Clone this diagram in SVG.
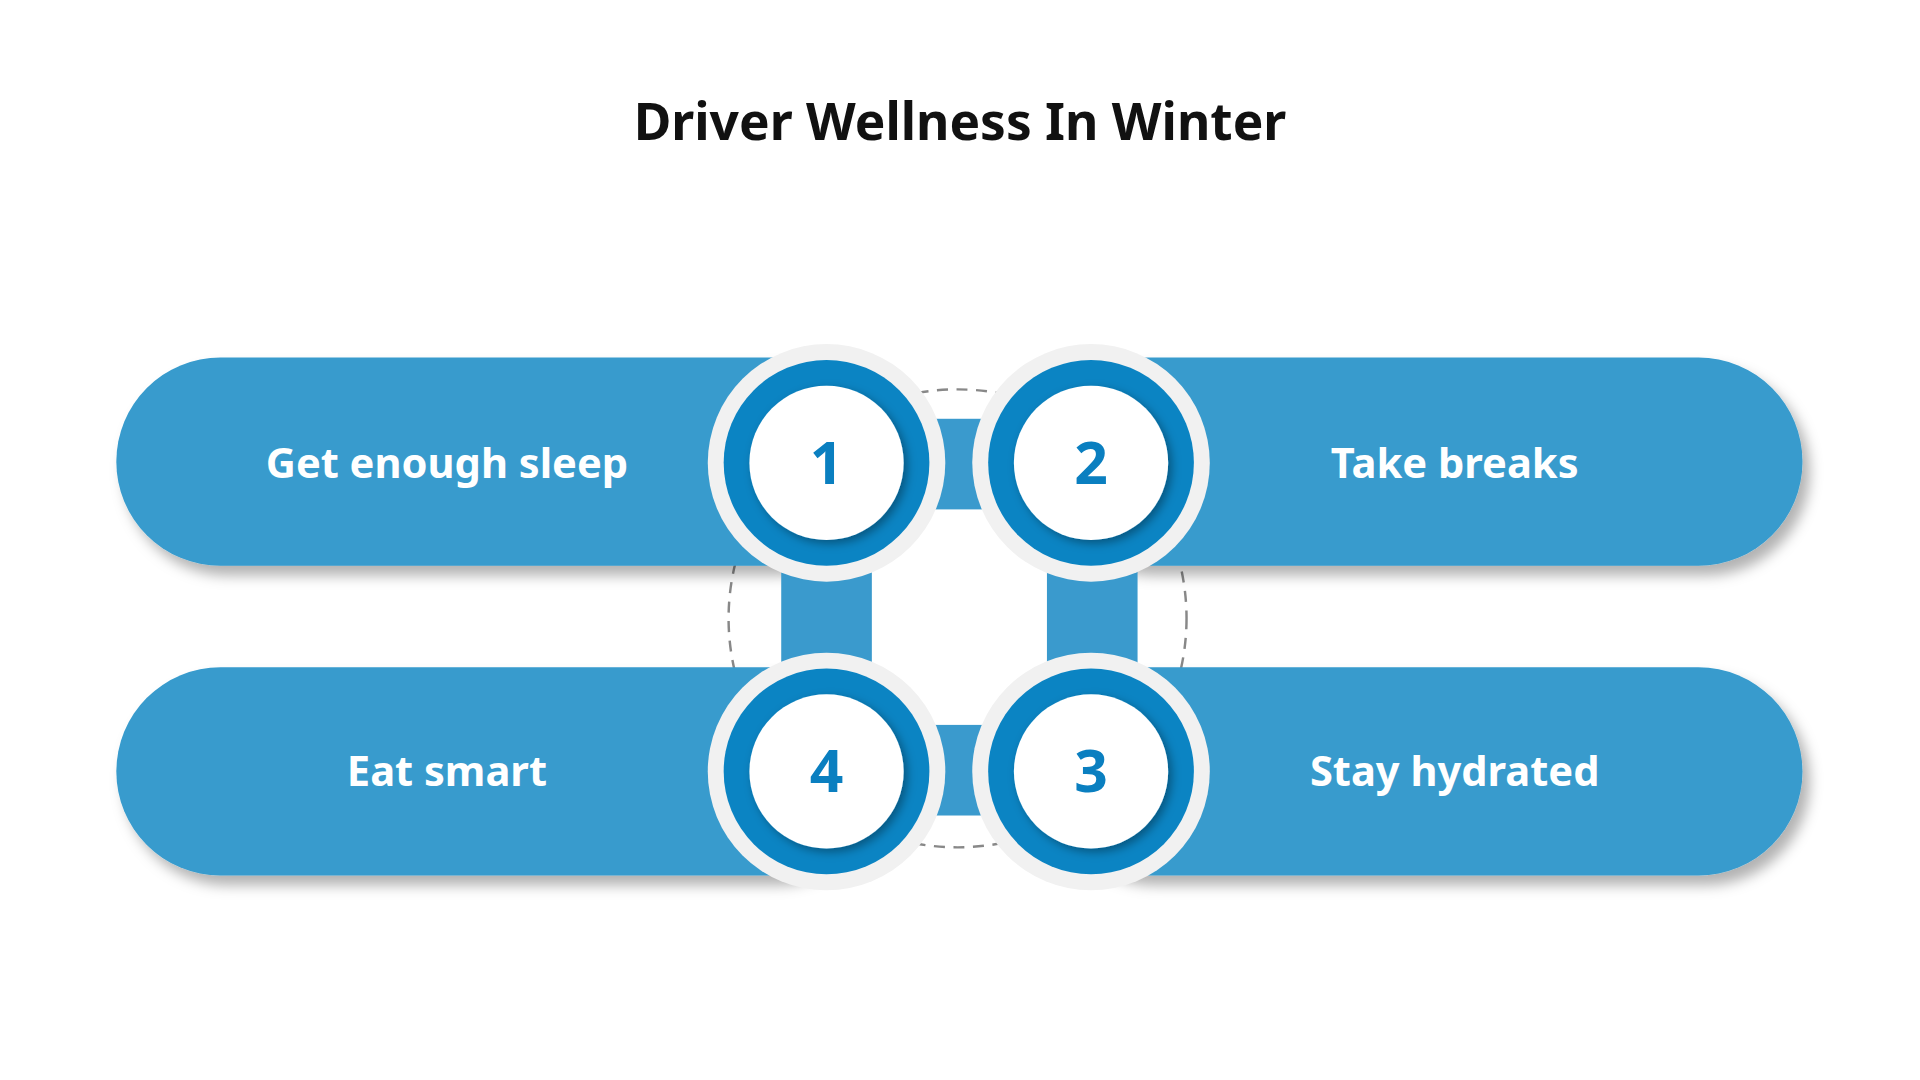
<svg xmlns="http://www.w3.org/2000/svg" width="1920" height="1080" viewBox="0 0 1920 1080">
<defs>
<style>
.pill{fill:#379bcd;filter:url(#sh)}
.bar{fill:#2f95ca;opacity:0.95}
.ring{fill:#f1f1f1}
.blue{fill:#0b84c3}
.inner{fill:#fff;filter:url(#ish)}
.num{font-family:"Noto Sans",sans-serif;font-weight:700;font-size:48px;fill:#0a7fc0;text-anchor:middle}
.lbl{font-family:"Noto Sans",sans-serif;font-weight:700;font-size:34px;fill:#fff;text-anchor:middle}
</style>
<filter id="sh" x="-10%" y="-20%" width="130%" height="150%"><feDropShadow dx="6" dy="8" stdDeviation="5" flood-color="#000" flood-opacity="0.3"/></filter>
<filter id="ish" x="-30%" y="-30%" width="160%" height="160%"><feDropShadow dx="3" dy="3" stdDeviation="4" flood-color="#000" flood-opacity="0.35"/></filter>
</defs>
<rect width="1920" height="1080" fill="#fff"/>
<g transform="scale(1.2245)">
<text x="784" y="114" font-family="Noto Sans,sans-serif" font-weight="700" font-size="42" text-anchor="middle" fill="#111">Driver Wellness In Winter</text>
<circle cx="782" cy="505" r="187" fill="none" stroke="#888" stroke-width="2" stroke-dasharray="9 7"/>
<g id="p1"><rect class="pill" x="95" y="292" width="620" height="170" rx="85"/><text class="lbl" x="365" y="390">Get enough sleep</text></g>
<g id="p2"><rect class="pill" x="852" y="292" width="620" height="170" rx="85"/><text class="lbl" x="1188" y="390">Take breaks</text></g>
<g id="p4"><rect class="pill" x="95" y="545" width="620" height="170" rx="85"/><text class="lbl" x="365" y="642">Eat smart</text></g>
<g id="p3"><rect class="pill" x="852" y="545" width="620" height="170" rx="85"/><text class="lbl" x="1188" y="642">Stay hydrated</text></g>
<g id="connectors">
<rect class="bar" x="675" y="342" width="216" height="74"/>
<rect class="bar" x="675" y="592" width="216" height="74"/>
<rect class="bar" x="638" y="378" width="74" height="252"/>
<rect class="bar" x="855" y="378" width="74" height="252"/>
</g>
<g id="n1"><circle class="ring" cx="675" cy="378" r="97"/><circle class="blue" cx="675" cy="378" r="84"/><circle class="inner" cx="675" cy="378" r="63"/><text class="num" x="675" y="395">1</text></g>
<g id="n2"><circle class="ring" cx="891" cy="378" r="97"/><circle class="blue" cx="891" cy="378" r="84"/><circle class="inner" cx="891" cy="378" r="63"/><text class="num" x="891" y="395">2</text></g>
<g id="n4"><circle class="ring" cx="675" cy="630" r="97"/><circle class="blue" cx="675" cy="630" r="84"/><circle class="inner" cx="675" cy="630" r="63"/><text class="num" x="675" y="647">4</text></g>
<g id="n3"><circle class="ring" cx="891" cy="630" r="97"/><circle class="blue" cx="891" cy="630" r="84"/><circle class="inner" cx="891" cy="630" r="63"/><text class="num" x="891" y="647">3</text></g>
</g>
</svg>
